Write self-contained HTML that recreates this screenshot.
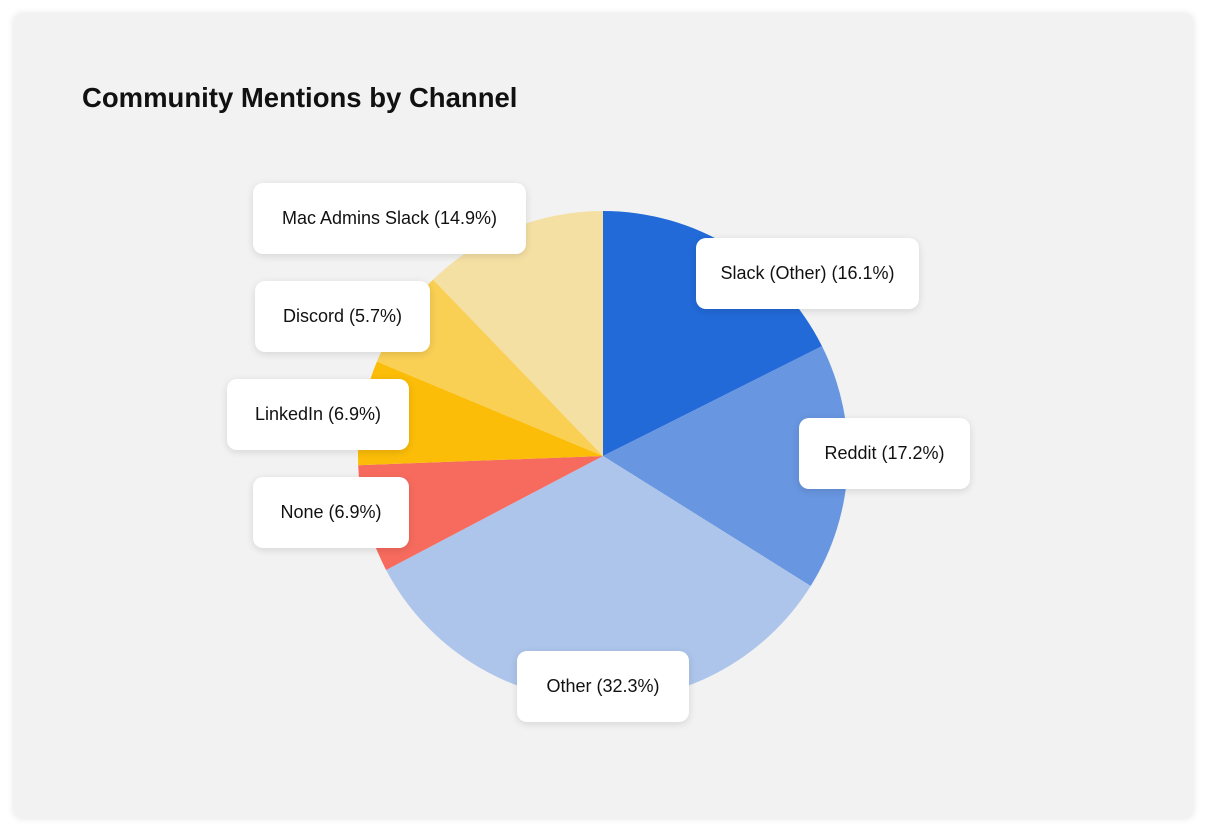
<!DOCTYPE html>
<html>
<head>
<meta charset="utf-8">
<style>
  html,body{margin:0;padding:0;background:#fff;width:1207px;height:832px;overflow:hidden;font-family:"Liberation Sans",sans-serif;}
  .card{position:absolute;left:14px;top:14px;width:1179px;height:804px;background:#f2f2f2;border-radius:8px;box-shadow:0 0 8px rgba(0,0,0,0.12);}
  .title{position:absolute;left:82px;top:82px;font-size:27.5px;font-weight:bold;color:#111;}
  svg{position:absolute;left:0;top:0;}
  .lbl{position:absolute;height:71px;background:#fff;border-radius:10px;box-shadow:0 2px 8px rgba(0,0,0,0.12);font-size:18px;color:#111;display:flex;align-items:center;justify-content:center;white-space:nowrap;}
</style>
</head>
<body>
<div class="card"></div>
<div class="title">Community Mentions by Channel</div>
<svg id="pie" width="1207" height="832"></svg>
<div class="lbl" style="left:253px;top:183px;width:273px">Mac Admins Slack (14.9%)</div>
<div class="lbl" style="left:696px;top:238px;width:223px">Slack (Other) (16.1%)</div>
<div class="lbl" style="left:255px;top:281px;width:175px">Discord (5.7%)</div>
<div class="lbl" style="left:227px;top:379px;width:182px">LinkedIn (6.9%)</div>
<div class="lbl" style="left:799px;top:418px;width:171px">Reddit (17.2%)</div>
<div class="lbl" style="left:253px;top:477px;width:156px">None (6.9%)</div>
<div class="lbl" style="left:517px;top:651px;width:172px">Other (32.3%)</div>
<script>
const categories = ["Slack (Other)","Reddit","Other","None","LinkedIn","Discord","Mac Admins Slack"];
const values = [17.6,16.3,33.4,7.1,6.9,6.5,12.2];
const colors = ["#226ad8","#6896e0","#adc5eb","#f76b5e","#fbbd08","#f9cf54","#f5e0a3"];
const svg = document.getElementById('pie');
const cx = 603, cy = 456, r = 245;
const total = values.reduce((a,b)=>a+b,0);
let acc = 0;
function pt(f){const a=f*2*Math.PI;return [cx+r*Math.sin(a), cy-r*Math.cos(a)];}
values.forEach((v,i)=>{
  const f0=acc/total; acc+=v; const f1=acc/total;
  const [x0,y0]=pt(f0),[x1,y1]=pt(f1);
  const large=(f1-f0)>0.5?1:0;
  const p=document.createElementNS('http://www.w3.org/2000/svg','path');
  p.setAttribute('d',`M${cx},${cy} L${x0},${y0} A${r},${r} 0 ${large} 1 ${x1},${y1} Z`);
  p.setAttribute('fill',colors[i]);
  
  
  svg.appendChild(p);
});
</script>
</body>
</html>
